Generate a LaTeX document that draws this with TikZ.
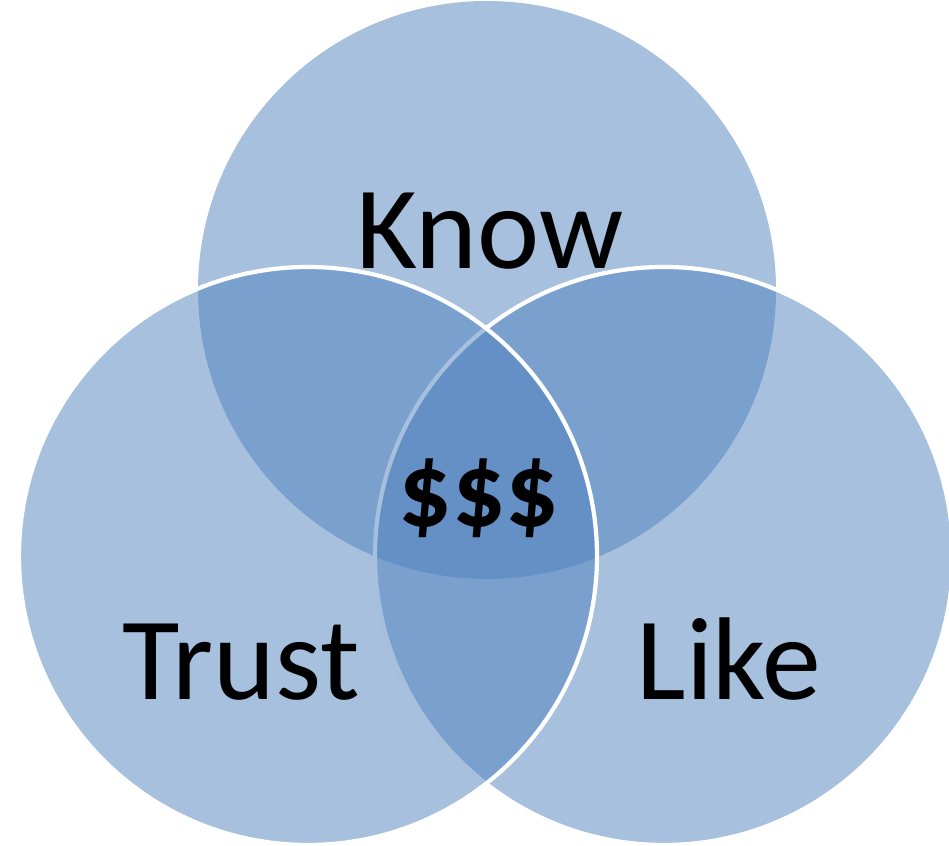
\documentclass[tikz,border=0pt]{standalone}
\usepackage{fontspec}
\setmainfont{Carlito}
\definecolor{setblue}{HTML}{4F81BD}
\begin{document}
\begin{tikzpicture}[line join=bevel]
  \tikzstyle{set}=[circle,fill=setblue,fill opacity=0.5,draw=white,line width=1.2pt,minimum size=5.78cm,inner sep=0pt]
  \tikzstyle{label}=[anchor=base,inner sep=0pt,text=black,font=\fontsize{33.5}{40}\selectfont]
  \useasboundingbox (0,0) rectangle (9.49,8.46);
  \node[set,draw=none] (S_1) at (4.87,5.56) {};
  \node[set] (S_3) at (6.64,2.90) {};
  \node[set] (S_2) at (3.08,2.90) {};

  \node[label] (L_1) at (4.90,5.77) {Know};
  \node[label] (L_2) at (2.41,1.46) {Trust};
  \node[label] (L_3) at (7.29,1.46) {Like};
  \node[label,font=\fontsize{30}{36}\selectfont\bfseries] (L_0) at (4.79,3.19) {\$\$\$};
\end{tikzpicture}
\end{document}
